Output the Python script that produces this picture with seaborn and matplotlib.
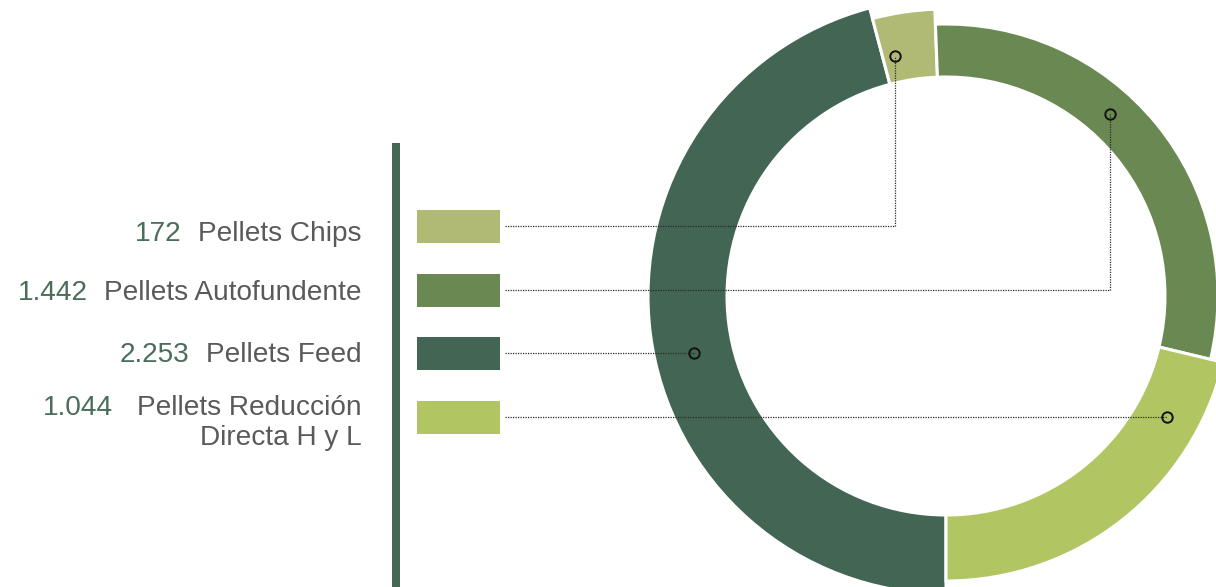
import numpy as np
import matplotlib
matplotlib.use("Agg")
import matplotlib.pyplot as plt
from matplotlib.patches import Rectangle
import seaborn as sns

# Production by pellet type (thousand tonnes)
series = ["Pellets Chips", "Pellets Autofundente", "Pellets Feed", "Pellets Reducción"]
label_lines = [["Pellets Chips"], ["Pellets Autofundente"], ["Pellets Feed"],
               ["Pellets Reducción", "Directa H y L"]]
values = [172, 1442, 2253, 1044]
value_labels = ["172", "1.442", "2.253", "1.044"]
colors = ["#B0BA74", "#6A8852", "#436553", "#B1C663"]

sns.set_theme(style="white")
plt.rcParams["font.family"] = ["Liberation Sans", "DejaVu Sans"]

W, H = 1216, 587
fig = plt.figure(figsize=(W / 100, H / 100), dpi=100)
ax = fig.add_axes([0, 0, 1, 1])


def py(y):
    """Convert a top-down pixel row into the axes' upward y."""
    return H - y


# Ring geometry
cx, cy = 946, py(296)
r_in = 219
r_out = {"Pellets Chips": 287, "Pellets Autofundente": 272,
         "Pellets Feed": 298, "Pellets Reducción": 285}

# Ring drawn clockwise from the bottom: Feed, Chips, Autofundente, Reducción
ring_order = [2, 0, 1, 3]
wedges, _ = ax.pie([values[i] for i in ring_order],
                   colors=[colors[i] for i in ring_order],
                   startangle=-90, counterclock=False, center=(cx, cy),
                   radius=300,
                   wedgeprops=dict(width=80, edgecolor="white", linewidth=2.2))
wedge_of = {}
for w, i in zip(wedges, ring_order):
    ro = r_out[series[i]]
    w.set_radius(ro)
    w.set_width(ro - r_in)
    wedge_of[series[i]] = w

ax.set_xlim(0, W)
ax.set_ylim(0, H)
ax.set_aspect("equal")
ax.axis("off")

# Left divider bar
ax.add_patch(Rectangle((392, 0), 8, py(143), color="#456854", lw=0))

# Legend rows
row_y = [226, 290, 353, 417]
box_x0, box_w, box_h = 417, 83, 33
text_right = 362
baselines = [[241], [300], [362], [415, 445]]
value_gap = [17, 17, 17, 24]
value_color = "#4A6E5A"
label_color = "#5A5A5A"
fs = 20.2

label_texts = []
for k in range(len(series)):
    yc = py(row_y[k])
    ax.add_patch(Rectangle((box_x0, yc - box_h / 2), box_w, box_h,
                           color=colors[k], lw=0))
    first = None
    for line, b in zip(label_lines[k], baselines[k]):
        t = ax.text(text_right, py(b), line, ha="right", va="baseline",
                    fontsize=fs, color=label_color)
        if first is None:
            first = t
    label_texts.append(first)

fig.canvas.draw()
renderer = fig.canvas.get_renderer()
inv = ax.transData.inverted()
for k, t in enumerate(label_texts):
    x0_disp = t.get_window_extent(renderer).x0
    x0 = inv.transform((x0_disp, 0))[0]
    ax.text(x0 - value_gap[k], py(baselines[k][0]), value_labels[k],
            ha="right", va="baseline", fontsize=fs, color=value_color)

# Leader lines and marker rings
leader_x0 = 505
marker_angle = {"Pellets Chips": 102, "Pellets Autofundente": 48}
marker_inset = {"Pellets Chips": 8}
leader_kw = dict(color="#2a2a2a", lw=0.9, linestyle=(0, (1, 1)), zorder=4)
for k, name in enumerate(series):
    w = wedge_of[name]
    rm = w.r - w.width / 2 - marker_inset.get(name, 0)
    yr = py(row_y[k])
    if name in marker_angle:
        a = np.deg2rad(marker_angle[name])
        mx, my = cx + rm * np.cos(a), cy + rm * np.sin(a)
        ax.plot([leader_x0, mx, mx], [yr, yr, my], **leader_kw)
    else:
        dy = yr - cy
        dx = np.sqrt(rm ** 2 - dy ** 2)
        mx = cx - dx if name == "Pellets Feed" else cx + dx
        my = yr
        ax.plot([leader_x0, mx], [yr, yr], **leader_kw)
    ax.plot([mx], [my], marker="o", ms=7.5, mfc="none", mec="#111111",
            mew=1.4, zorder=5)

fig.savefig("out.png", dpi=100)
